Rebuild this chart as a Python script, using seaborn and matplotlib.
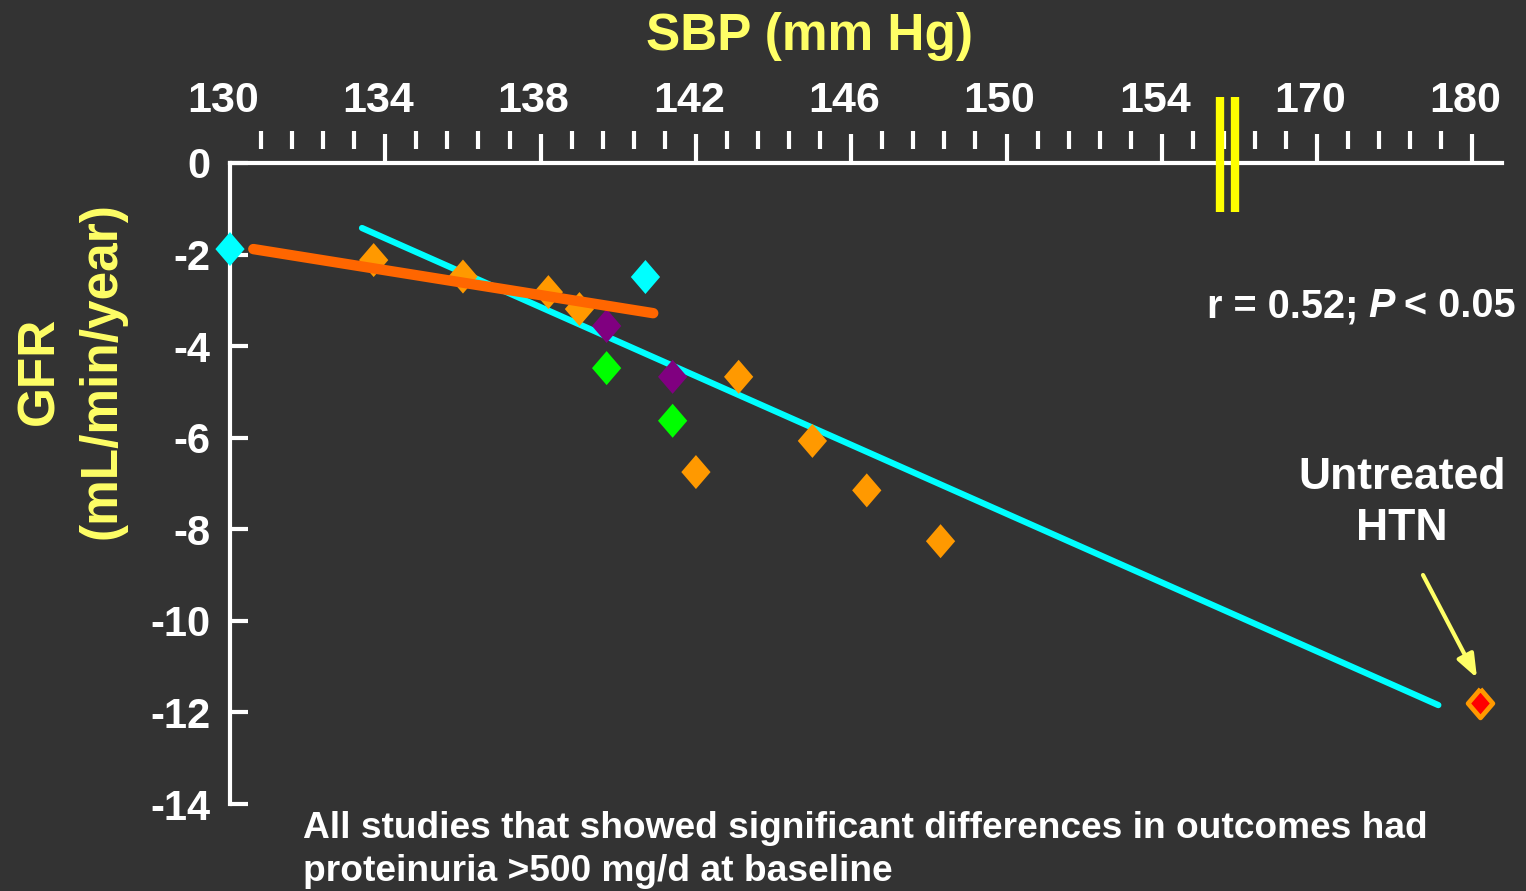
import numpy as np
import pandas as pd
import seaborn as sns
import matplotlib.pyplot as plt
from matplotlib import font_manager
from matplotlib.transforms import ScaledTranslation

sns.set_theme(style="white")
plt.rcParams["font.family"] = ["Liberation Sans", "DejaVu Sans"]
plt.rcParams["font.weight"] = "bold"

bg = "#333333"
yellow = "#FFFF66"

# data (SBP in mm Hg, GFR change in mL/min/year)
cyan_sbp = [130.0, 140.7]
cyan_gfr = [-1.88, -2.49]
orange_sbp = [133.7, 136.0, 138.2, 139.0, 142.0, 143.1, 145.0, 146.4, 148.3]
orange_gfr = [-2.12, -2.48, -2.82, -3.19, -6.75, -4.67, -6.07, -7.15, -8.26]
purple_sbp = [139.7, 141.4]
purple_gfr = [-3.56, -4.67]
green_sbp = [139.7, 141.4]
green_gfr = [-4.48, -5.63]
htn_sbp = [180.5]
htn_gfr = [-11.8]

# regression lines
all_fit_sbp = [133.4, 177.8]
all_fit_gfr = [-1.42, -11.84]
low_fit_sbp = [130.6, 140.9]
low_fit_gfr = [-1.88, -3.28]

x_ticks = [130, 134, 138, 142, 146, 150, 154, 170, 180]
y_ticks = [0, -2, -4, -6, -8, -10, -12, -14]

points = pd.DataFrame({
    "sbp": cyan_sbp + orange_sbp + purple_sbp + green_sbp,
    "gfr": cyan_gfr + orange_gfr + purple_gfr + green_gfr,
    "group": (["cyan"] * len(cyan_sbp) + ["orange"] * len(orange_sbp)
              + ["purple"] * len(purple_sbp) + ["green"] * len(green_sbp)),
})
palette = {"cyan": "#00FFFF", "orange": "#FF9900", "purple": "#800080", "green": "#00FF00"}

diamond = [(0, 1), (0.86, 0), (0, -1), (-0.86, 0), (0, 1)]

fig = plt.figure(figsize=(15.26, 8.91), dpi=100, facecolor=bg)
ax = fig.add_axes([230 / 1526, 1 - 804 / 891, 1272 / 1526, 641 / 891])
ax.set_facecolor(bg)

sns.lineplot(x=all_fit_sbp, y=all_fit_gfr, color="#00FFFF", lw=4.5,
             estimator=None, sort=False, legend=False, ax=ax, zorder=2)
sns.scatterplot(data=points, x="sbp", y="gfr", hue="group", palette=palette,
                marker=diamond, s=600, linewidth=0, legend=False, ax=ax,
                zorder=3, clip_on=False)
sns.lineplot(x=low_fit_sbp, y=low_fit_gfr, color="#FF6600", lw=7.5,
             estimator=None, sort=False, legend=False, ax=ax, zorder=4)
sns.scatterplot(x=htn_sbp, y=htn_gfr, color="#FF0000", edgecolor="#FF9900",
                marker=diamond, s=430, linewidth=3.4, legend=False, ax=ax,
                zorder=5, clip_on=False)


# broken SBP axis: 154 -> 170 -> 180 share the same tick step
def fwd(x):
    return np.interp(x, [100, 130, 154, 170, 180, 200], [100, 130, 154, 158, 162, 170])


def inv(p):
    return np.interp(p, [100, 130, 154, 158, 162, 170], [100, 130, 154, 170, 180, 200])


ax.set_xscale("function", functions=(fwd, inv))
ax.set_xlim(130, 181.9)
ax.set_ylim(-14, 0)
ax.set_xlabel("")
ax.set_ylabel("")

for side in ["bottom", "right"]:
    ax.spines[side].set_visible(False)
for side in ["top", "left"]:
    ax.spines[side].set_color("white")
    ax.spines[side].set_linewidth(3)

ax.xaxis.tick_top()
ax.set_xticks(x_ticks)
ax.set_xticklabels([str(t) for t in x_ticks])
ax.tick_params(axis="x", which="major", direction="out", length=21, width=3,
               colors="white", pad=9, labelsize=31, top=True, bottom=False,
               labeltop=True, labelbottom=False)
ax.xaxis.get_major_ticks()[0].tick2line.set_visible(False)
shift = ScaledTranslation(-7 / 100, 0, fig.dpi_scale_trans)
for lab in ax.get_xticklabels():
    lab.set_transform(lab.get_transform() + shift)

ax.set_yticks(y_ticks)
ax.set_yticklabels([str(t) for t in y_ticks])
ax.tick_params(axis="y", direction="in", length=13, width=3, colors="white",
               pad=14, labelsize=30, left=True, right=False)
ax.minorticks_off()

# small detached ticks above the SBP axis
minor_pos = [130 + 0.8 * k for k in range(1, 41) if k % 5 != 0]
ax.vlines(inv(np.array(minor_pos)), 1.022, 1.05, transform=ax.get_xaxis_transform(),
          colors="white", lw=3, clip_on=False)

# axis break marks
ax.vlines([160.0, 161.5], 0.924, 1.103, transform=ax.get_xaxis_transform(),
          colors="#FFFF00", lw=6, clip_on=False, zorder=6)

fig.text(810 / 1526, 1 - 50 / 891, "SBP (mm Hg)", ha="center", va="baseline",
         size=37, color=yellow)
fig.text(71 / 1526, 1 - 371 / 891, "GFR\n(mL/min/year)", rotation=90, ha="center",
         va="center", multialignment="center", size=37, color=yellow, linespacing=1.35)

t1 = fig.text(1207 / 1526, 1 - 317 / 891, "r = 0.52;", ha="left", va="baseline",
              size=28.5, color="white")
t2 = ax.annotate("P", xy=(1, 0), xycoords=t1, xytext=(7.5, 0), textcoords="offset points",
                 ha="left", va="bottom", size=28.5, style="italic", color="white",
                 annotation_clip=False)
ax.annotate("< 0.05", xy=(1, 0), xycoords=t2, xytext=(6.5, 0), textcoords="offset points",
            ha="left", va="bottom", size=28.5, color="white", annotation_clip=False)

# multi-line text: 'baseline' pins the last line
fig.text(1402 / 1526, 1 - 540 / 891, "Untreated\nHTN", ha="center", va="baseline",
         multialignment="center", size=32, color="white", linespacing=1.32)
ax.annotate("", xy=(1477 / 1526, 1 - 678 / 891), xycoords="figure fraction",
            xytext=(1423 / 1526, 1 - 575 / 891), textcoords="figure fraction",
            arrowprops=dict(arrowstyle="-|>,head_length=0.7,head_width=0.27",
                            mutation_scale=20, lw=3, color=yellow,
                            shrinkA=0, shrinkB=0))

names = {f.name for f in font_manager.fontManager.ttflist}
narrow = "Liberation Sans Narrow" in names
note = fig.text(303 / 1526, 1 - 881 / 891,
                "All studies that showed significant differences in outcomes had\n"
                "proteinuria >500 mg/d at baseline",
                ha="left", va="baseline", size=22, color="white", linespacing=1.28,
                family=["Liberation Sans Narrow", "DejaVu Sans"] if narrow else None)
if not narrow:
    fig.canvas.draw()
    w = note.get_window_extent().width
    note.set_fontsize(22 * 1125 / w)

fig.savefig("out.png", dpi=100, facecolor=bg)
